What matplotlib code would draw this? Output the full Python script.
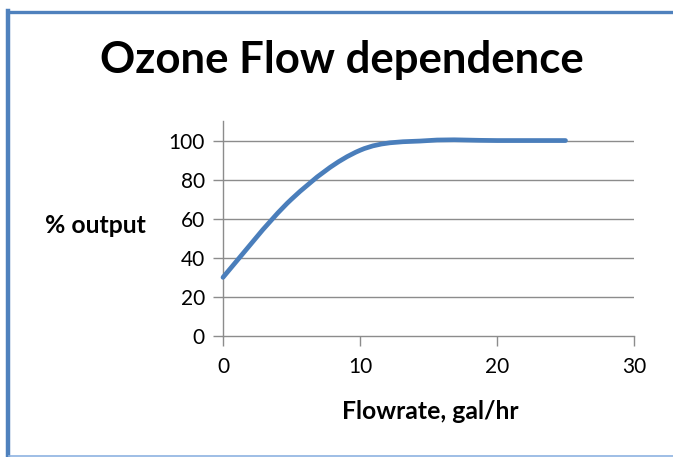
import numpy as np
import matplotlib
matplotlib.use("Agg")
import matplotlib.pyplot as plt
from matplotlib.path import Path
from matplotlib.patches import PathPatch
from matplotlib.lines import Line2D

flow = [0, 5, 10, 15, 20, 25]
output = [30, 70, 95, 100, 100, 100]
xticks = [0, 10, 20, 30]
yticks = [0, 20, 40, 60, 80, 100]
title = "Ozone Flow dependence"
xlabel = "Flowrate, gal/hr"
ylabel = "% output"

plt.rcParams['font.family'] = ['Lato', 'DejaVu Sans']

W, H = 673, 457
fig = plt.figure(figsize=(W / 100, H / 100), dpi=100)
fig.patch.set_facecolor("white")

def fx(px):
    return px / W

def fy(py):
    return 1 - py / H

# chart-area frame: top, left (blue) and bottom (light blue)
fig.add_artist(Line2D([fx(7.5), 1.0], [fy(11.5), fy(11.5)],
                      transform=fig.transFigure, color="#4F81BD", linewidth=2.4))
fig.add_artist(Line2D([fx(7.5), fx(7.5)], [fy(10.5), fy(457)],
                      transform=fig.transFigure, color="#4F81BD", linewidth=3.2))
fig.add_artist(Line2D([fx(9), 1.0], [fy(455.8), fy(455.8)],
                      transform=fig.transFigure, color="#8DB3E2", linewidth=1.2))

ax = fig.add_axes([fx(223), fy(336), (634 - 223) / W, (336 - 121) / H])
ax.set_xlim(0, 30)
ax.set_ylim(0, 110)
ax.set_xticks(xticks)
ax.set_yticks(yticks)
ax.set_xticklabels([str(v) for v in xticks])
ax.set_yticklabels([str(v) for v in yticks])

grid_c = "#8C8C8C"
for v in yticks[1:]:
    ax.axhline(v, color=grid_c, linewidth=1.0, zorder=1)
for s in ["top", "right"]:
    ax.spines[s].set_visible(False)
for s in ["left", "bottom"]:
    ax.spines[s].set_color(grid_c)
    ax.spines[s].set_linewidth(1.0)
ax.tick_params(axis="both", direction="out", length=7, width=1.0,
               color=grid_c, labelsize=15, pad=6, labelcolor="black")
ax.tick_params(axis="x", pad=8)

# Excel-style smoothed line (Catmull-Rom Bezier through data points)
pts = np.column_stack([flow, output]).astype(float)
verts = [tuple(pts[0])]
codes = [Path.MOVETO]
n = len(pts)
for i in range(n - 1):
    p0 = pts[i - 1] if i > 0 else pts[i]
    p1 = pts[i]
    p2 = pts[i + 1]
    p3 = pts[i + 2] if i + 2 < n else pts[i + 1]
    c1 = p1 + (p2 - p0) / 6.0
    c2 = p2 - (p3 - p1) / 6.0
    verts += [tuple(c1), tuple(c2), tuple(p2)]
    codes += [Path.CURVE4] * 3
ax.add_patch(PathPatch(Path(verts, codes), fill=False, edgecolor="#4A7EBB",
                       linewidth=3.4, capstyle="round", zorder=3, clip_on=False))

fig.text(fx(342), fy(73), title, ha="center", va="baseline",
         fontsize=31.5, fontweight="bold")
fig.text(fx(430), fy(419), xlabel, ha="center", va="baseline",
         fontsize=17.8, fontweight="bold")
fig.text(fx(95.5), fy(233), ylabel, ha="center", va="baseline",
         fontsize=17.8, fontweight="bold")

fig.savefig("out.png", dpi=100, facecolor="white")
